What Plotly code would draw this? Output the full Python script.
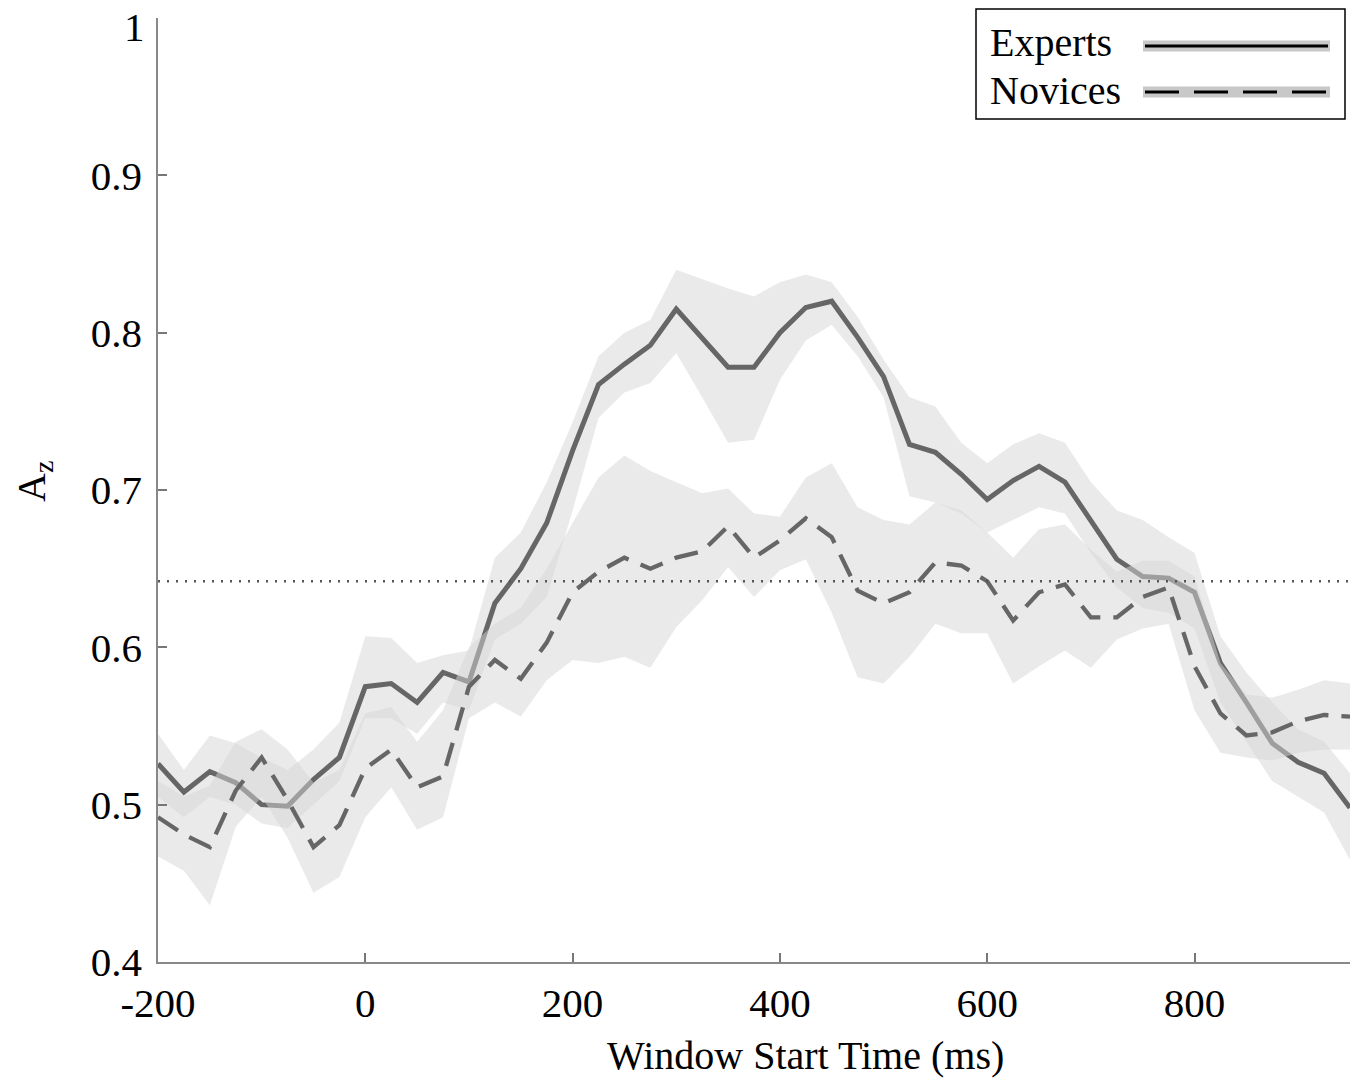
import plotly.graph_objects as go

# ---------------- data ----------------
time_ms = [-200, -175, -150, -125, -100, -75, -50, -25,
           0, 25, 50, 75, 100, 125, 150, 175,
           200, 225, 250, 275, 300, 325, 350, 375,
           400, 425, 450, 475, 500, 525, 550, 575,
           600, 625, 650, 675, 700, 725, 750, 775,
           800, 825, 850, 875, 900, 925, 950]

experts = [0.526, 0.508, 0.521, 0.514, 0.500, 0.499, 0.516, 0.530,
           0.575, 0.577, 0.565, 0.584, 0.578, 0.628, 0.650, 0.679,
           0.725, 0.767, 0.780, 0.792, 0.815, 0.797, 0.778, 0.778,
           0.800, 0.816, 0.820, 0.797, 0.772, 0.729, 0.724, 0.710,
           0.694, 0.706, 0.715, 0.705, 0.680, 0.656, 0.645, 0.644,
           0.635, 0.590, 0.565, 0.539, 0.527, 0.520, 0.498]

experts_upper = [0.545, 0.522, 0.544, 0.539, 0.530, 0.522, 0.535, 0.552,
                 0.607, 0.606, 0.590, 0.595, 0.598, 0.657, 0.673, 0.705,
                 0.743, 0.785, 0.800, 0.808, 0.840, 0.834, 0.828, 0.823,
                 0.832, 0.837, 0.832, 0.810, 0.783, 0.759, 0.753, 0.730,
                 0.717, 0.729, 0.736, 0.730, 0.705, 0.687, 0.681, 0.670,
                 0.660, 0.607, 0.584, 0.565, 0.548, 0.540, 0.520]

experts_lower = [0.505, 0.492, 0.505, 0.500, 0.488, 0.485, 0.500, 0.515,
                 0.555, 0.555, 0.545, 0.565, 0.560, 0.605, 0.615, 0.632,
                 0.687, 0.746, 0.762, 0.768, 0.787, 0.759, 0.730, 0.732,
                 0.770, 0.795, 0.805, 0.785, 0.759, 0.696, 0.692, 0.685,
                 0.673, 0.681, 0.689, 0.685, 0.660, 0.638, 0.625, 0.622,
                 0.612, 0.565, 0.540, 0.515, 0.505, 0.495, 0.465]

novices = [0.492, 0.481, 0.473, 0.509, 0.530, 0.503, 0.473, 0.487,
           0.523, 0.535, 0.511, 0.518, 0.575, 0.592, 0.580, 0.603,
           0.635, 0.648, 0.657, 0.650, 0.657, 0.661, 0.677, 0.657,
           0.668, 0.682, 0.670, 0.636, 0.628, 0.635, 0.654, 0.652,
           0.642, 0.617, 0.635, 0.640, 0.619, 0.619, 0.632, 0.638,
           0.588, 0.558, 0.544, 0.546, 0.553, 0.557, 0.556]

novices_upper = [0.515, 0.505, 0.512, 0.540, 0.548, 0.535, 0.514, 0.522,
                 0.558, 0.562, 0.540, 0.560, 0.600, 0.615, 0.625, 0.650,
                 0.679, 0.708, 0.722, 0.712, 0.705, 0.698, 0.701, 0.685,
                 0.683, 0.708, 0.717, 0.689, 0.681, 0.678, 0.692, 0.687,
                 0.673, 0.657, 0.675, 0.678, 0.662, 0.648, 0.655, 0.655,
                 0.645, 0.590, 0.570, 0.568, 0.573, 0.579, 0.577]

novices_lower = [0.467, 0.458, 0.436, 0.486, 0.505, 0.479, 0.444, 0.454,
                 0.492, 0.511, 0.484, 0.492, 0.555, 0.565, 0.556, 0.579,
                 0.592, 0.590, 0.594, 0.587, 0.613, 0.630, 0.651, 0.632,
                 0.649, 0.656, 0.622, 0.581, 0.577, 0.594, 0.615, 0.609,
                 0.609, 0.577, 0.588, 0.598, 0.587, 0.605, 0.612, 0.615,
                 0.560, 0.533, 0.530, 0.528, 0.533, 0.535, 0.535]

chance_level = 0.642

x_ticks = [-200, 0, 200, 400, 600, 800]
x_tick_labels = ["-200", "0", "200", "400", "600", "800"]
y_ticks = [0.4, 0.5, 0.6, 0.7, 0.8, 0.9, 1.0]
y_tick_labels = ["0.4", "0.5", "0.6", "0.7", "0.8", "0.9", ""]
y_top_label = "1"

# ---------------- styling ----------------
W, H = 1360, 1083
OFF = 8  # page body margin offset
# plot area in screen pixels: x 158..1350, y 18..962
ML, MT = 158 - OFF, 18 - OFF
MR = W - (1350 - OFF)
MB = H - (962 - OFF)
FONT = "Liberation Serif, Times New Roman, serif"
TICK_SIZE = 41
TEXT_SIZE = 40
LINE_COL = "#666666"
BAND_COL = "rgba(214,214,214,0.5)"

fig = go.Figure()


def band(upper, lower):
    return go.Scatter(x=time_ms + time_ms[::-1], y=upper + lower[::-1],
                      fill="toself", fillcolor=BAND_COL, mode="lines",
                      line=dict(width=0), hoverinfo="skip", showlegend=False)


fig.add_trace(band(experts_upper, experts_lower))
fig.add_trace(go.Scatter(x=time_ms, y=experts, mode="lines", name="Experts",
                         line=dict(color=LINE_COL, width=5), showlegend=False))
fig.add_trace(band(novices_upper, novices_lower))
fig.add_trace(go.Scatter(x=time_ms, y=novices, mode="lines", name="Novices",
                         line=dict(color=LINE_COL, width=4.3, dash="24px,13px"),
                         showlegend=False))
fig.add_trace(go.Scatter(x=[time_ms[0], time_ms[-1]], y=[chance_level, chance_level],
                         mode="lines", line=dict(color="#555555", width=2.5, dash="2px,7px"),
                         hoverinfo="skip", showlegend=False))


# custom legend (screen pixel -> paper helpers)
pw, ph = W - ML - MR, H - MT - MB


def px(x):
    return (x - OFF - ML) / pw


def py(y):
    return (H - MB - (y - OFF)) / ph


shapes = [
    dict(type="rect", xref="paper", yref="paper", x0=px(976), x1=px(1345),
         y0=py(119), y1=py(9), line=dict(color="black", width=1.5), fillcolor="white", layer="above"),
    # Experts sample
    dict(type="line", xref="paper", yref="paper", x0=px(1143), x1=px(1330), y0=py(46), y1=py(46),
         line=dict(color="#c8c8c8", width=11), layer="above"),
    dict(type="line", xref="paper", yref="paper", x0=px(1145), x1=px(1328), y0=py(46), y1=py(46),
         line=dict(color="black", width=3), layer="above"),
    # Novices sample
    dict(type="line", xref="paper", yref="paper", x0=px(1143), x1=px(1330), y0=py(92), y1=py(92),
         line=dict(color="#c8c8c8", width=11), layer="above"),
    dict(type="line", xref="paper", yref="paper", x0=px(1145), x1=px(1328), y0=py(92), y1=py(92),
         line=dict(color="black", width=3, dash="34px,15px"), layer="above"),
]

annotations = [
    dict(text="Experts", xref="paper", yref="paper", x=px(988), y=py(43), xanchor="left",
         yanchor="middle", showarrow=False, font=dict(family=FONT, size=TEXT_SIZE, color="black")),
    dict(text="Novices", xref="paper", yref="paper", x=px(988), y=py(91), xanchor="left",
         yanchor="middle", showarrow=False, font=dict(family=FONT, size=TEXT_SIZE, color="black")),
    dict(text="Window Start Time (ms)", xref="paper", yref="paper", x=px(805), y=py(1055),
         xanchor="center", yanchor="middle", showarrow=False,
         font=dict(family=FONT, size=TEXT_SIZE, color="black")),
    dict(text="A<sub>z</sub>", xref="paper", yref="paper", x=px(34), y=py(482),
         xanchor="center", yanchor="middle", showarrow=False, textangle=-90,
         font=dict(family=FONT, size=TEXT_SIZE, color="black")),
    dict(text=y_top_label, xref="paper", yref="paper", x=px(147), y=py(27),
         xanchor="right", yanchor="middle", showarrow=False,
         font=dict(family=FONT, size=TICK_SIZE, color="black")),
]

fig.update_layout(
    width=W, height=H,
    margin=dict(l=ML, r=MR, t=MT, b=MB, pad=0, autoexpand=False),
    paper_bgcolor="white", plot_bgcolor="white",
    font=dict(family=FONT, size=TICK_SIZE, color="black"),
    shapes=shapes, annotations=annotations,
    xaxis=dict(range=[-200, 950], tickvals=x_ticks, ticktext=x_tick_labels, ticks="inside",
               ticklen=9, tickcolor="#777777", tickwidth=1.5, showline=True,
               linecolor="#888888", linewidth=1.5, showgrid=False, zeroline=False,
               mirror=False, ticklabelstandoff=4, ticklabeloverflow="allow",
               tickfont=dict(family=FONT, size=TICK_SIZE, color="black")),
    yaxis=dict(range=[0.4, 1.0], tickvals=y_ticks, ticktext=y_tick_labels, ticks="inside",
               ticklen=9, tickcolor="#777777", tickwidth=1.5, showline=True,
               linecolor="#888888", linewidth=1.5, showgrid=False, zeroline=False,
               ticklabelstandoff=6, ticklabeloverflow="allow",
               tickfont=dict(family=FONT, size=TICK_SIZE, color="black")),
)

fig.write_html("out.html")
